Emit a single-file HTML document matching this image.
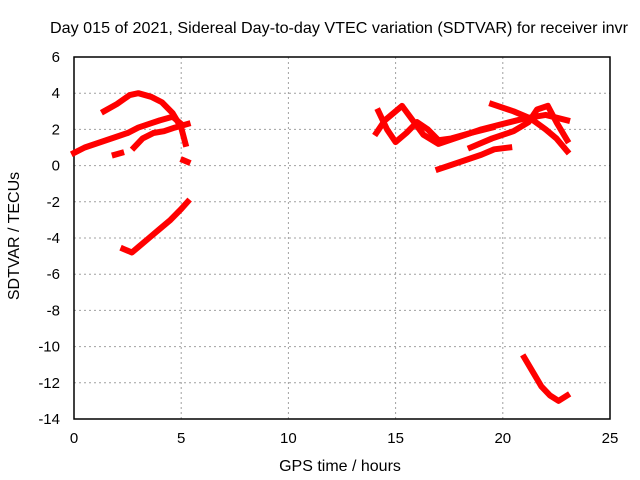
<!DOCTYPE html>
<html><head><meta charset="utf-8"><style>
body{margin:0;background:#fff}
svg{display:block;font-family:"Liberation Sans",sans-serif}
</style></head><body>
<svg id="c" width="640" height="480"></svg>
<script>
const xTicks=[0,5,10,15,20,25];
const yTicks=[6,4,2,0,-2,-4,-6,-8,-10,-12,-14];
const seriesArc=[[1.4,3.0],[2.0,3.4],[2.6,3.9],[3.0,4.0],[3.6,3.8],[4.1,3.5],[4.6,2.9],[5.0,2.1],[5.2,1.2]];
const seriesBand=[[0,0.7],[0.5,1.0],[1.0,1.2],[1.5,1.4],[2.0,1.6],[2.5,1.8],[3.0,2.1],[3.5,2.3],[4.0,2.5],[4.6,2.7],[5.0,2.3]];
const seriesLow=[[2.8,1.0],[3.2,1.5],[3.7,1.8],[4.2,1.9],[4.7,2.1],[5.3,2.3]];
const seriesBlob1=[[1.9,0.6],[2.2,0.7]];
const seriesBlob2=[[5.1,0.3],[5.3,0.2]];
const seriesNeg=[[2.3,-4.6],[2.7,-4.8],[3.0,-4.5],[3.5,-4.0],[4.0,-3.5],[4.5,-3.0],[5.0,-2.4],[5.3,-2.0]];
const seriesR1=[[14.1,1.8],[14.5,2.5],[15.0,3.0],[15.3,3.3],[15.8,2.5],[16.3,1.7],[17.0,1.2],[18.0,1.6],[19.0,2.0],[20.0,2.3],[21.0,2.6],[22.0,2.8],[23.0,2.5]];
const seriesR2=[[14.2,3.0],[14.6,2.0],[15.0,1.3],[15.5,1.8],[16.0,2.4],[16.5,2.0],[17.0,1.4],[17.6,1.5],[18.5,1.8],[19.5,2.1]];
const seriesR3=[[17.0,-0.2],[17.5,0.0],[18.0,0.2],[19.0,0.6],[19.6,0.9],[20.3,1.0]];
const seriesR4=[[19.5,3.4],[20.5,3.0],[21.3,2.6],[22.0,2.0],[22.5,1.5],[23.0,0.8]];
const seriesR5=[[18.5,1.0],[19.5,1.5],[20.5,1.9],[21.2,2.4],[21.6,3.1],[22.1,3.3],[22.5,2.4],[23.0,1.4]];
const seriesTail=[[21.0,-10.6],[21.4,-11.4],[21.8,-12.2],[22.2,-12.7],[22.6,-13.0],[23.0,-12.7]];
const allSeries=[seriesArc,seriesBand,seriesLow,seriesBlob1,seriesBlob2,seriesNeg,seriesR1,seriesR2,seriesR3,seriesR4,seriesR5,seriesTail];
const L=74,R=610,T=57,B=419;
const sx=v=>L+(v-0)/(25-0)*(R-L);
const sy=v=>T+(6-v)/(6+14)*(B-T);
const svg=document.getElementById('c');
const NS='http://www.w3.org/2000/svg';
function mk(tag,attrs,txt){const e=document.createElementNS(NS,tag);for(const k in attrs)e.setAttribute(k,attrs[k]);if(txt!=null)e.textContent=txt;svg.appendChild(e);return e;}
xTicks.forEach(t=>{
 if(t>0&&t<25){const g=mk('line',{x1:sx(t),x2:sx(t),y1:T,y2:B,stroke:'#a0a0a0','stroke-dasharray':'2,3'});
 
 }
 const lb=mk('text',{x:sx(t),y:B+24,'text-anchor':'middle','font-size':15},t);
 
 
});
yTicks.forEach(t=>{
 if(t<6&&t>-14){const g=mk('line',{x1:L,x2:R,y1:sy(t),y2:sy(t),stroke:'#a0a0a0','stroke-dasharray':'2,3'});
 
 }
 const lb=mk('text',{x:L-14,y:sy(t)+5,'text-anchor':'end','font-size':15},t);
 
 
});
const fr=mk('rect',{x:L,y:T,width:R-L,height:B-T,fill:'none',stroke:'#000','stroke-width':1.5});


allSeries.forEach(s=>{
 const p=mk('polyline',{points:s.map(d=>sx(d[0])+','+sy(d[1])).join(' '),fill:'none',stroke:'#ff0000','stroke-width':6,'stroke-linejoin':'round','stroke-linecap':'square'});
 
 
});
const t1=mk('text',{x:339,y:33,'text-anchor':'middle','font-size':16,textLength:578,lengthAdjust:'spacingAndGlyphs'},'Day 015 of 2021, Sidereal Day-to-day VTEC variation (SDTVAR) for receiver invr');


const t2=mk('text',{x:340,y:471,'text-anchor':'middle','font-size':16},'GPS time / hours');


const t3=mk('text',{x:19,y:236,'text-anchor':'middle','font-size':16,transform:'rotate(-90 19 236)'},'SDTVAR / TECUs');


</script>
</body></html>
